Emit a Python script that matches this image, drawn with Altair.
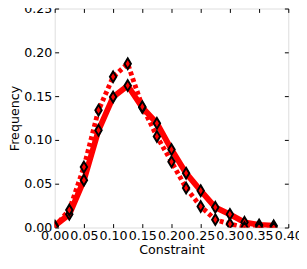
import altair as alt
import pandas as pd

constraint = [0.0, 0.025, 0.05, 0.075, 0.1, 0.125, 0.15, 0.175, 0.2, 0.225, 0.25, 0.275, 0.3, 0.325, 0.35, 0.375]
freq_solid = [0.002, 0.015, 0.054, 0.111, 0.149, 0.162, 0.137, 0.119, 0.089, 0.062, 0.042, 0.023, 0.015, 0.006, 0.003, 0.002]
freq_dotted = [0.001, 0.020, 0.069, 0.134, 0.172, 0.187, 0.138, 0.104, 0.075, 0.045, 0.024, 0.009, 0.004, 0.0, 0.0, 0.0]
x_ticks = [0.0, 0.05, 0.10, 0.15, 0.20, 0.25, 0.30, 0.35, 0.40]
y_ticks = [0.0, 0.05, 0.10, 0.15, 0.20, 0.25]

df = pd.DataFrame({
    "x": constraint * 2,
    "y": freq_solid + freq_dotted,
    "s": ["solid"] * len(constraint) + ["dotted"] * len(constraint),
})

FONT = "DejaVu Sans"
xs = alt.Scale(domain=[0, 0.4], nice=False, zero=False)
ys = alt.Scale(domain=[0, 0.25], nice=False, zero=False)

common = dict(domain=False, ticks=True, tickSize=4, tickWidth=1, tickColor="black",
              offset=-4, grid=False, labelFont=FONT, labelFontSize=13, labelColor="black",
              titleFont=FONT, titleFontSize=13, titleFontWeight="normal", titleColor="black",
              format=".2f")

ax_bottom = alt.Axis(orient="bottom", values=x_ticks, title="Constraint", labelPadding=2,
                     titlePadding=2, labelFlush=False, labelOverlap=False, **common)
ax_left = alt.Axis(orient="left", values=y_ticks, title="Frequency", labelPadding=3,
                   titlePadding=2, labelFlush=False, labelOverlap=False, **common)
ax_top = alt.Axis(orient="top", values=x_ticks, title=None, labels=False, **common)
ax_right = alt.Axis(orient="right", values=y_ticks, title=None, labels=False, **common)

base = alt.Chart(df)

solid_line = base.transform_filter(alt.datum.s == "solid").mark_line(
    color="#ff0000", strokeWidth=6, clip=True
).encode(
    x=alt.X("x:Q", scale=xs, axis=ax_bottom),
    y=alt.Y("y:Q", scale=ys, axis=ax_left),
)

dotted_line = base.transform_filter(alt.datum.s == "dotted").mark_line(
    color="#ff0000", strokeWidth=5, strokeDash=[4, 3], strokeCap="butt", clip=True
).encode(
    x=alt.X("x:Q", scale=xs, axis=ax_top),
    y=alt.Y("y:Q", scale=ys, axis=ax_right),
)

points = base.mark_point(
    shape="M0,-1L0.6,0L0,1L-0.6,0Z", filled=True, fill="#ff0000", stroke="black",
    strokeWidth=2, size=121, opacity=1, clip=True
).encode(
    x=alt.X("x:Q", scale=xs, axis=None),
    y=alt.Y("y:Q", scale=ys, axis=None),
)

chart = alt.layer(solid_line, dotted_line, points).resolve_axis(
    x="independent", y="independent"
).properties(
    width=240, height=225,
    autosize=alt.AutoSizeParams(type="none"),
    padding={"left": 48, "top": -3, "right": 11, "bottom": 36},
).configure_view(stroke="black", strokeWidth=2).configure(background="white")

chart.save("out.html", embed_options={"renderer": "svg", "actions": False})
